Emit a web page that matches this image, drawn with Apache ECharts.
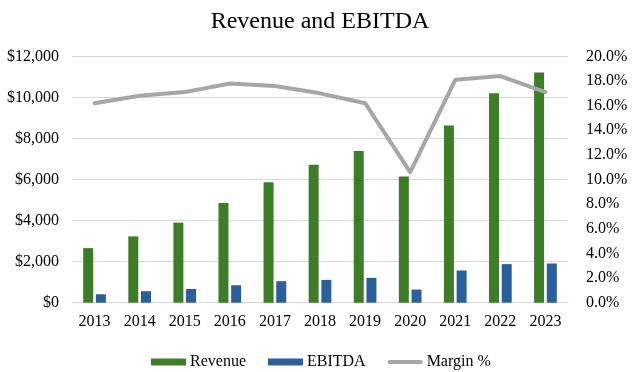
<!DOCTYPE html>
<html>
<head>
<meta charset="utf-8">
<script src="https://cdn.jsdelivr.net/npm/echarts@6/dist/echarts.min.js"></script>
<style>html,body{margin:0;padding:0;background:#fff}#c{width:640px;height:372px}</style>
</head>
<body>
<div id="c"></div>
<script>
var years = ['2013','2014','2015','2016','2017','2018','2019','2020','2021','2022','2023'];
var revenue = [2660, 3230, 3900, 4860, 5870, 6720, 7390, 6150, 8630, 10210, 11220];
var ebitda = [410, 560, 670, 850, 1050, 1110, 1210, 640, 1570, 1880, 1910];
var margin = [16.2, 16.8, 17.1, 17.8, 17.6, 17.0, 16.2, 10.6, 18.1, 18.4, 17.1];

var FONT = '"Liberation Serif", "Times New Roman", serif';
var chart = echarts.init(document.getElementById('c'), null, {renderer: 'canvas'});
chart.setOption({
  animation: false,
  textStyle: {fontFamily: FONT},
  title: {
    text: 'Revenue and EBITDA', left: 'center', top: 5,
    textStyle: {fontFamily: FONT, fontSize: 24, fontWeight: 'normal', color: '#000'}
  },
  legend: {
    left: 146, top: 349, itemWidth: 35, itemHeight: 7, itemGap: 22,
    symbolKeepAspect: true,
    textStyle: {fontFamily: FONT, fontSize: 16, color: '#000', padding: [0,0,0,-1]},
    data: [
      {name: 'Revenue', icon: 'rect'},
      {name: 'EBITDA', icon: 'rect'},
      {name: 'Margin %', icon: 'path://M2,0 L33,0 Q35,0 35,2 Q35,4 33,4 L2,4 Q0,4 0,2 Q0,0 2,0 Z',
        itemStyle: {color: '#A6A6A6'}}
    ]
  },
  grid: {left: 72, right: 72, top: 56.4, bottom: 69.3},
  xAxis: {
    type: 'category', data: years,
    axisLine: {lineStyle: {color: '#D9D9D9'}},
    axisTick: {show: false},
    axisLabel: {fontFamily: FONT, fontSize: 16, color: '#000', margin: 11}
  },
  yAxis: [
    {
      type: 'value', min: 0, max: 12000, interval: 2000,
      axisLine: {show: false}, axisTick: {show: false},
      splitLine: {lineStyle: {color: '#D9D9D9', width: 1}},
      axisLabel: {fontFamily: FONT, fontSize: 16, color: '#000', margin: 13,
        formatter: function (v) { return '$' + v.toLocaleString('en-US'); }}
    },
    {
      type: 'value', min: 0, max: 20, interval: 2,
      axisLine: {show: false}, axisTick: {show: false}, splitLine: {show: false},
      axisLabel: {fontFamily: FONT, fontSize: 16, color: '#000', margin: 18,
        formatter: function (v) { return v.toFixed(1) + '%'; }}
    }
  ],
  series: [
    {name: 'Revenue', type: 'bar', data: revenue, barWidth: 10, barGap: '27%',
      itemStyle: {color: '#3E7D28'}},
    {name: 'EBITDA', type: 'bar', data: ebitda, barWidth: 10,
      itemStyle: {color: '#2A5F9E'}},
    {name: 'Margin %', type: 'line', yAxisIndex: 1, data: margin,
      symbol: 'none', lineStyle: {color: '#A6A6A6', width: 4, cap: 'round', join: 'round'},
      itemStyle: {color: '#A6A6A6'}}
  ]
});
</script>
</body>
</html>
